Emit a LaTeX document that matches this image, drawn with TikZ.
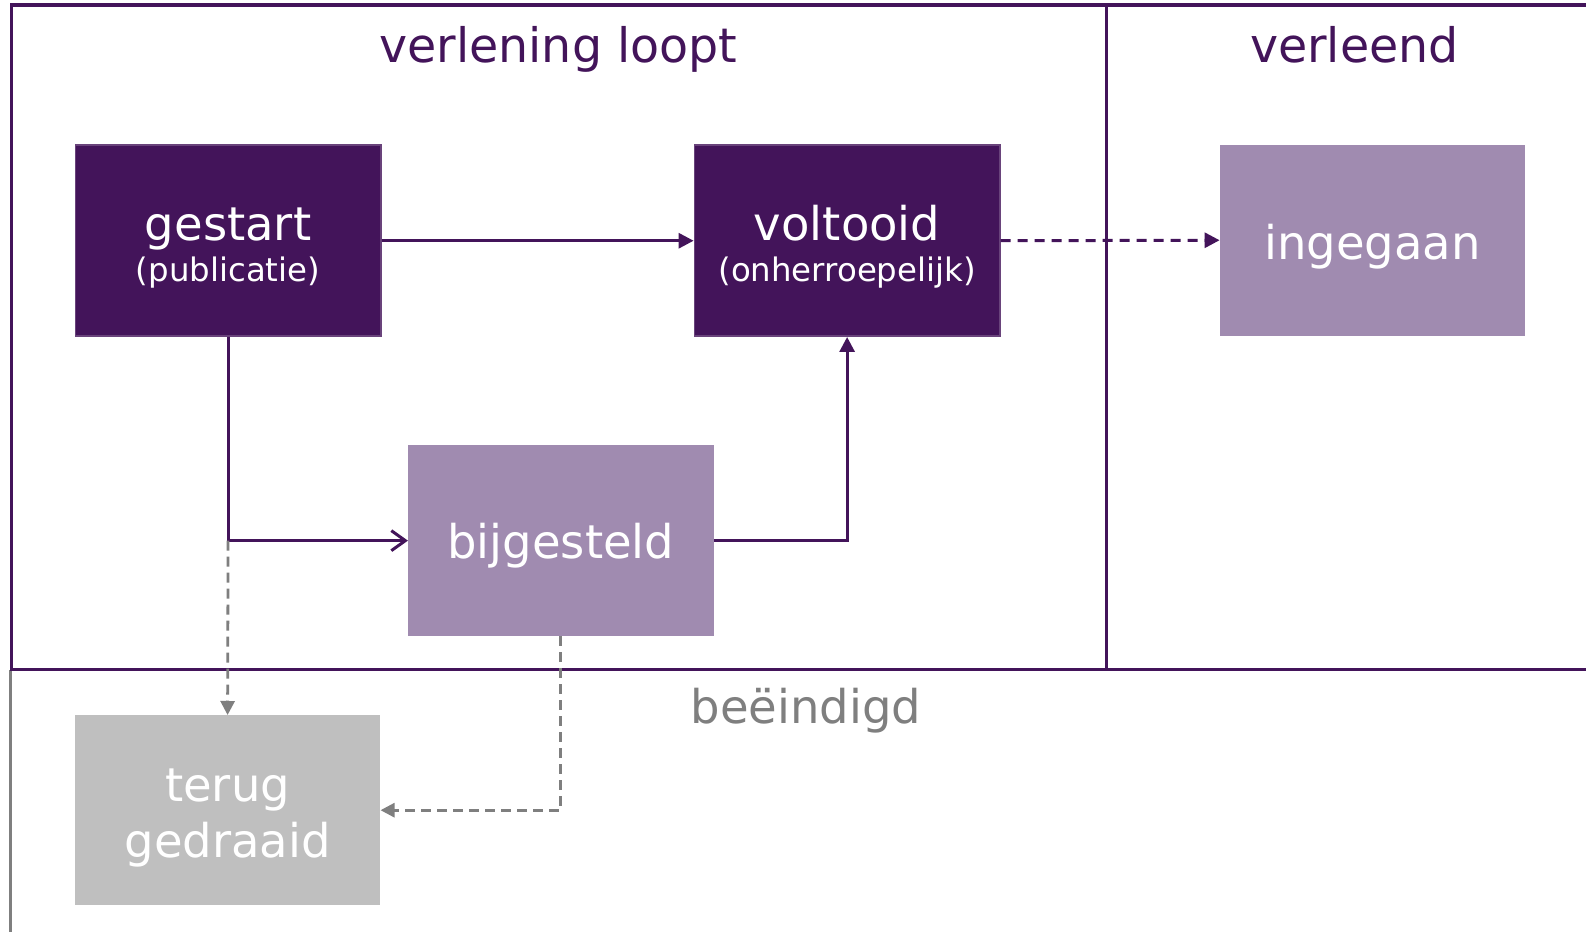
\documentclass[tikz,border=0pt]{standalone}
\usepackage{fontspec}
\setmainfont{DejaVu Sans}
\usetikzlibrary{arrows.meta}
\definecolor{dpurple}{HTML}{43145A}
\definecolor{lpurple}{HTML}{A08BB0}
\definecolor{lgray}{HTML}{BFBFBF}
\definecolor{mgray}{HTML}{7F7F7F}
\tikzset{
  frameline/.style={dpurple, line width=3.2pt},
  grayframe/.style={mgray, line width=2.6pt},
  darkbox/.style={rectangle, fill=dpurple, draw=dpurple!80!white, line width=1.5pt, minimum width=305.5pt, minimum height=191pt, inner sep=0pt},
  lightbox/.style={rectangle, fill=lpurple, minimum width=305.5pt, minimum height=191pt, inner sep=0pt},
  graybox/.style={rectangle, fill=lgray, minimum width=305.5pt, minimum height=190pt, inner sep=0pt},
  bigtext/.style={font=\fontsize{46.5pt}{56pt}\selectfont, text=white, anchor=base, inner sep=0pt},
  smalltext/.style={font=\fontsize{32.4pt}{38pt}\selectfont, text=white, anchor=base, inner sep=0pt},
  titletext/.style={font=\fontsize{47.5pt}{56pt}\selectfont, text=dpurple, anchor=base, inner sep=0pt},
  graytitle/.style={font=\fontsize{46.5pt}{56pt}\selectfont, text=mgray, anchor=base, inner sep=0pt},
  flow/.style={dpurple, line width=3pt, -{Triangle[length=15pt,width=15pt]}},
  flowopen/.style={dpurple, line width=3pt, -{Straight Barb[length=14pt,width=20pt,line width=3pt]}},
  flowdash/.style={dpurple, line width=3pt, dash pattern=on 10pt off 7pt, -{Triangle[length=15pt,width=15pt]}},
  graydash/.style={mgray, line width=2.8pt, dash pattern=on 10pt off 6pt, -{Triangle[length=14pt,width=14pt]}},
}
\begin{document}
\begin{tikzpicture}[x=1.01148pt,y=-1.01148pt]
\useasboundingbox (0,0) rectangle (1568,921.4);
\fill[white] (0,0) rectangle (1568,921.4);

% frame
\draw[grayframe] (10.5,662) -- (10.5,921.4);
\draw[frameline] (1568,5) -- (11,5) -- (11,662) -- (1568,662);
\draw[frameline] (1094,5) -- (1094,662);

% titles
\node[titletext] (t1) at (552,62) {verlening loopt};
\node[titletext] (t2) at (1339,62) {verleend};
\node[graytitle] (t3) at (797,715) {beëindigd};

% boxes
\node[darkbox] (gestart) at (225.5,238) {};
\node[bigtext] (gestartA) at (225.5,237.5) {gestart};
\node[smalltext] (gestartB) at (225.5,278) {(publicatie)};

\node[darkbox] (voltooid) at (837.5,238) {};
\node[bigtext] (voltooidA) at (837.5,237.5) {voltooid};
\node[smalltext] (voltooidB) at (837.5,278) {(onherroepelijk)};

\node[lightbox] (ingegaan) at (1357,237.5) {};
\node[bigtext] (ingegaanA) at (1357,257) {ingegaan};

\node[lightbox] (bijgesteld) at (554.5,534.5) {};
\node[bigtext] (bijgesteldA) at (554.5,552) {bijgesteld};

\node[graybox] (terug) at (225,801) {};
\node[bigtext] (terugA) at (225,792) {terug};
\node[bigtext] (terugB) at (225,848) {gedraaid};

% connectors
\coordinate (split) at (gestart.south |- bijgesteld.west);
\coordinate (corner1) at (voltooid.south |- bijgesteld.east);
\coordinate (corner2) at (bijgesteld.south |- terug.east);

\draw[flow] (gestart.east) -- (voltooid.west);
\draw[flowdash] (voltooid.east) -- (ingegaan.west);
\draw[flowopen] (gestart.south) -- (split) -- (bijgesteld.west);
\draw[flow] (bijgesteld.east) -- (corner1) -- (voltooid.south);
\draw[graydash] (split) -- (terug.north);
\draw[graydash] (bijgesteld.south) -- (corner2) -- (terug.east);
\end{tikzpicture}
\end{document}
